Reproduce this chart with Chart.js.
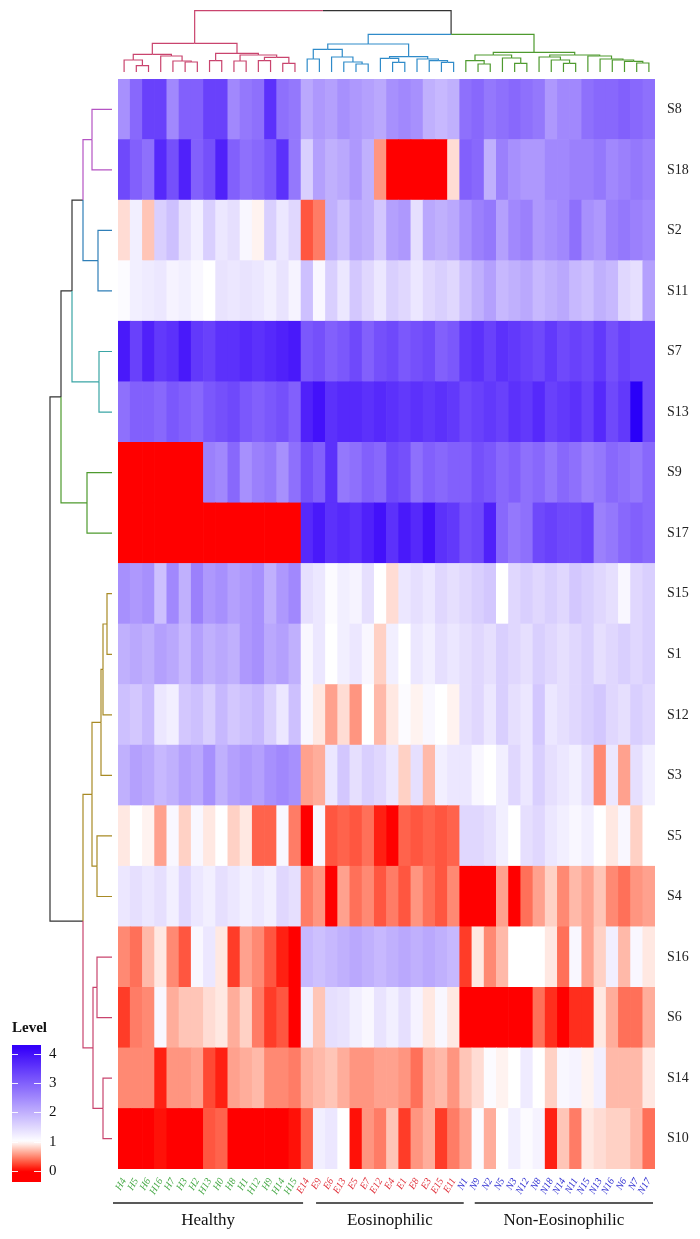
<!DOCTYPE html>
<html>
<head>
<meta charset="utf-8">
<script src="https://cdn.jsdelivr.net/npm/chart.js@4.4.0/dist/chart.umd.min.js"></script>
<style>
  body { margin: 0; background: #fff; }
  #wrap { position: relative; width: 700px; height: 1239px; overflow: hidden; }
  canvas { position: absolute; }
  #levelTitle { position: absolute; left: 12px; top: 1019px; font: bold 15px "Liberation Serif", serif; color: #111; }
</style>
</head>
<body>
<div id="wrap">
  <canvas id="heat" width="700" height="1239" style="left:0;top:0"></canvas>
  <canvas id="topDend" width="537" height="79" style="left:118px;top:0"></canvas>
  <canvas id="leftDend" width="118" height="1090" style="left:0;top:79px"></canvas>
  <canvas id="legend" width="62" height="137" style="left:12px;top:1045px"></canvas>
  <div id="levelTitle">Level</div>
</div>
<script>
// --- columnas (muestras) ---
const healthy = ['H4','H5','H6','H16','H7','H3','H2','H13','H0','H8','H1','H12','H9','H14','H15'];
const eosinophilic = ['E14','E9','E6','E13','E5','E7','E12','E4','E1','E8','E3','E15','E11'];
const nonEosinophilic = ['N1','N9','N2','N5','N3','N12','N8','N18','N14','N11','N15','N13','N16','N6','N7','N17'];
const groupNames = ['Healthy', 'Eosinophilic', 'Non-Eosinophilic'];

// --- filas, de arriba a abajo ---
const rowNames = ['S8','S18','S2','S11','S7','S13','S9','S17','S15','S1','S12','S3','S5','S4','S16','S6','S14','S10'];

// niveles por fila: Healthy | Eosinophilic | Non-Eosinophilic
const s8  = [2.4,2.9,3.4,3.4,2.5,3.0,3.0,3.4,3.4,2.5,2.7,2.8,3.6,2.8,2.7, 2.1,2.3,2.2,2.4,2.3,2.2,2.1,2.4,2.5,2.4,2.0,1.9,2.0, 2.8,2.9,2.7,2.8,2.9,2.8,2.7,2.3,2.5,2.5,2.8,2.9,2.9,3.0,2.9,2.8];
const s18 = [3.3,3.0,2.8,3.7,3.2,3.8,3.0,3.2,3.8,3.0,2.8,2.9,3.1,3.6,2.7, 1.6,2.2,2.0,2.1,2.3,2.0,0.55,0,0,0,0,0,0.85, 3.0,2.9,2.0,2.6,2.4,2.3,2.3,2.5,2.5,2.6,2.6,2.7,2.5,2.6,2.7,2.6];
const s2  = [0.85,1.2,0.75,1.6,1.8,1.4,1.2,1.6,1.3,1.4,1.1,0.95,1.6,1.3,1.5, 0.3,0.45,2.0,1.8,2.1,2.0,1.7,2.2,2.3,1.4,2.1,2.0,2.1, 2.4,2.6,2.7,2.2,2.5,2.6,2.3,2.4,2.5,2.8,2.4,2.3,2.6,2.7,2.6,2.5];
const s11 = [1.05,1.2,1.25,1.3,1.15,1.2,1.1,1.0,1.35,1.3,1.35,1.3,1.2,1.35,1.15, 1.8,1.1,1.6,1.3,1.7,1.5,1.3,1.6,1.5,1.3,1.5,1.6,1.5, 1.8,2.0,2.2,1.9,2.0,2.1,1.9,2.0,2.1,1.9,1.8,2.0,1.9,1.5,1.4,2.2];
const s7  = [3.9,3.4,3.8,3.5,3.6,3.9,3.5,3.4,3.6,3.6,3.7,3.6,3.7,3.8,3.9, 3.1,3.2,3.0,3.1,3.3,3.0,3.2,3.3,3.1,3.2,3.3,3.0,3.1, 3.5,3.6,3.4,3.6,3.5,3.4,3.3,3.5,3.3,3.4,3.3,3.5,3.2,3.4,3.3,3.3];
const s13 = [2.8,3.0,3.0,2.9,3.1,3.0,2.9,3.1,3.2,3.3,3.1,3.0,3.1,3.2,3.0, 3.8,4.0,3.6,3.7,3.7,3.6,3.7,3.6,3.5,3.6,3.5,3.6,3.5, 3.3,3.4,3.5,3.4,3.6,3.5,3.7,3.4,3.5,3.6,3.4,3.7,3.3,3.5,4.4,3.3];
const s9  = [0,0,0,0,0,0,0,2.6,2.5,2.9,2.4,2.6,2.7,2.4,2.8, 3.2,3.0,3.6,2.7,2.8,3.0,2.9,3.3,3.2,2.8,3.0,2.9,3.0, 3.0,3.2,3.1,2.9,3.0,2.8,2.9,2.7,2.9,2.8,2.6,2.7,2.9,2.8,2.7,2.9];
const s17 = [0,0,0,0,0,0,0,0,0,0,0,0,0,0,0, 3.7,3.9,3.6,3.7,3.6,3.8,4.0,3.6,3.9,3.7,4.0,3.6,3.5, 3.2,3.3,3.8,2.9,2.7,2.8,3.3,3.4,3.3,3.3,3.4,2.6,2.7,2.9,3.0,2.9];
const s15 = [2.4,2.3,2.4,1.8,2.5,2.0,2.6,2.3,2.4,2.2,2.3,2.4,2.0,2.3,2.5, 1.4,1.3,1.05,1.2,1.15,1.4,1.0,0.85,1.3,1.4,1.3,1.5,1.4, 1.5,1.6,1.7,1.0,1.5,1.6,1.5,1.6,1.5,1.7,1.6,1.5,1.4,1.1,1.5,1.6];
const s1  = [2.0,2.1,2.0,2.2,2.1,1.9,2.2,2.0,2.1,2.0,2.3,2.4,2.1,2.2,2.0, 1.1,1.3,1.0,1.2,1.3,1.1,0.8,1.2,1.0,1.3,1.2,1.4,1.3, 1.4,1.5,1.4,1.6,1.5,1.4,1.6,1.5,1.4,1.5,1.6,1.4,1.5,1.6,1.5,1.6];
const s12 = [1.8,1.7,1.9,1.3,1.2,1.7,1.8,1.6,1.9,1.7,1.8,1.9,1.6,1.3,1.8, 1.1,0.9,0.6,0.85,0.55,1.0,0.7,0.9,1.05,0.95,1.1,1.0,0.95, 1.4,1.5,1.3,1.6,1.4,1.3,1.7,1.3,1.4,1.5,1.6,1.7,1.5,1.4,1.6,1.5];
const s3  = [2.0,2.2,2.1,1.9,2.0,2.2,2.1,2.4,2.0,2.2,2.3,2.2,2.4,2.5,2.4, 0.6,0.65,1.3,1.7,1.4,1.6,1.5,1.3,0.8,1.4,0.7,1.2,1.3, 1.3,1.1,1.0,1.2,1.5,1.3,1.6,1.4,1.3,1.2,1.4,0.5,1.3,0.6,1.4,1.2];
const s5  = [0.9,1.0,0.95,0.6,1.1,0.8,1.1,0.9,1.0,0.8,0.9,0.35,0.35,1.1,0.45, 0.0,1.1,0.3,0.35,0.3,0.4,0.1,0.0,0.35,0.3,0.35,0.3,0.35, 1.5,1.5,1.4,1.2,1.0,1.4,1.5,1.3,1.2,1.1,1.2,1.0,0.9,1.1,0.8,1.0];
const s4  = [1.3,1.4,1.3,1.4,1.2,1.5,1.3,1.2,1.4,1.3,1.2,1.3,1.2,1.5,1.4, 0.45,0.55,0.0,0.6,0.4,0.5,0.3,0.45,0.3,0.55,0.4,0.3,0.5, 0.0,0.0,0.0,0.6,0.0,0.4,0.6,0.8,0.5,0.7,0.6,0.75,0.5,0.4,0.55,0.6];
const s16 = [0.5,0.4,0.7,0.9,0.5,0.3,1.1,1.3,0.9,0.2,0.6,0.5,0.3,0.1,0.0, 1.9,1.8,1.9,2.0,2.1,2.0,1.9,2.0,2.1,2.0,2.1,2.0,1.9, 0.2,0.9,0.5,0.7,1.0,1.0,1.0,0.9,0.4,1.1,0.6,0.8,1.2,0.7,1.1,0.9];
const s6  = [0.2,0.45,0.5,1.1,0.65,0.75,0.75,0.85,0.9,0.65,0.8,0.45,0.2,0.3,0.0, 1.2,0.75,1.4,1.35,1.2,1.1,1.35,1.2,1.4,1.15,0.9,1.1,0.9, 0,0,0,0,0,0,0.4,0.15,0,0.15,0.15,0.9,0.65,0.4,0.4,0.65];
const s14 = [0.5,0.5,0.5,0.1,0.55,0.55,0.6,0.25,0.1,0.6,0.65,0.7,0.5,0.5,0.45, 0.65,0.7,0.75,0.65,0.55,0.55,0.6,0.6,0.55,0.4,0.65,0.7,0.55, 0.75,0.85,1.05,0.95,1.0,1.25,1.0,0.8,1.1,1.15,0.95,1.2,0.7,0.7,0.7,0.9];
const s10 = [0,0,0,0.05,0,0,0,0.3,0.35,0,0,0,0,0,0.05, 0.35,1.2,1.3,1.0,0.05,0.55,0.45,0.75,0.2,0.55,0.65,0.2,0.45, 0.6,1.05,0.65,1.0,1.2,1.05,1.15,0.1,0.75,0.45,0.9,0.85,0.8,0.8,0.7,0.4];
const rows = [s8, s18, s2, s11, s7, s13, s9, s17, s15, s1, s12, s3, s5, s4, s16, s6, s14, s10];

// dendrograma de columnas: [izq, der, altura], hojas = índice de columna
const colTree = [
  [[[0,[1,2,6.3],12],[3,[4,[5,6,10],11],16],17.7],
   [[7,8,11.3],[[9,10,11],[[11,12,11.3],[13,14,8.7],14.7],17],18.7], 28.7],
  [[[[15,16,13],[17,[18,[19,20,8],10],15],22.7],[[21,[22,23,9.7],13.7],[24,[25,[26,27,9.7],11.3],13],15.3],28],
   [[[28,[29,30,8],11.3],[31,[32,33,8.7],14],17],[[34,[35,[36,37,8.7],12],15],[38,[39,[40,[41,[42,43,9],10.7],12],13],16],17],19.7],
   37.7],
  61.3];
// dendrograma de filas, hojas = índice de fila
const rowTree = [
  [[[[0,1,20],[2,3,14],29],[4,5,13],40],[6,7,25],51],
  [[[[[8,9,5],10,9],11,11],[12,13,15],20],[[14,15,15],[16,17,9],19],29],
  62];

const legendTicks = [0, 1, 2, 3, 4];
const legendMin = -0.38, legendMax = 4.31;

const FONT = '"Liberation Serif", "DejaVu Serif", serif';
const colLabels = [...healthy, ...eosinophilic, ...nonEosinophilic];
const groupStart = [0, healthy.length, healthy.length + eosinophilic.length];
const groupEnd = [healthy.length - 1, healthy.length + eosinophilic.length - 1, colLabels.length - 1];
const groupTextColor = ['#45a845', '#e0303a', '#2a2ad0'];
const colTreeColors = ['#c9446e', '#2f8bc9', '#4e9a2e'];
const rowTreeColors = ['#b554c4','#b554c4','#2f7fb8','#2f7fb8','#3aa5a5','#3aa5a5','#4e9a2e','#4e9a2e',
  '#a88a25','#a88a25','#a88a25','#a88a25','#a88a25','#a88a25','#c9446e','#c9446e','#c9446e','#c9446e'];

// rojo (0) -> blanco (1) -> azul violáceo (4)
function levelColor(v) {
  if (v <= 1) {
    const t = Math.max(0, v);
    return `rgb(255,${Math.round(255 * Math.pow(t, 0.9))},${Math.round(255 * Math.pow(t, 1.15))})`;
  }
  const t = Math.min((v - 1) / 3, 1.15);
  return `rgb(${Math.round(Math.max(0, 255 - 188 * t))},${Math.round(Math.max(0, 255 - 238 * t))},${Math.round(255 - 5 * t)})`;
}

function groupOf(i) { return i < groupStart[1] ? 0 : (i < groupStart[2] ? 1 : 2); }

// --- Heatmap: barras apiladas, una celda por fila ---
const heatDatasets = rows.slice().reverse().map((vals, k) => ({
  label: rowNames[rows.length - 1 - k],
  data: vals.map(() => 1),
  backgroundColor: vals.map(levelColor),
  borderWidth: 0,
  barPercentage: 1,
  categoryPercentage: 1
}));

const groupPlugin = {
  id: 'groupLabels',
  afterDraw(chart) {
    const x = chart.scales.x, ctx = chart.ctx, bottom = chart.chartArea.bottom;
    const half = (x.getPixelForValue(1) - x.getPixelForValue(0)) / 2;
    const insets = [[-5, 2], [15, 4], [15, -2]];
    ctx.save();
    groupNames.forEach((name, g) => {
      const x0 = x.getPixelForValue(groupStart[g]) - half + insets[g][0];
      const x1 = x.getPixelForValue(groupEnd[g]) + half + insets[g][1];
      ctx.strokeStyle = '#222';
      ctx.lineWidth = 1.5;
      ctx.beginPath();
      ctx.moveTo(x0, bottom + 34);
      ctx.lineTo(x1, bottom + 34);
      ctx.stroke();
      ctx.fillStyle = '#111';
      ctx.font = '17px ' + FONT;
      ctx.textAlign = 'center';
      ctx.textBaseline = 'alphabetic';
      ctx.fillText(name, (x0 + x1) / 2, bottom + 56);
    });
    ctx.restore();
  }
};

new Chart(document.getElementById('heat'), {
  type: 'bar',
  data: { labels: colLabels, datasets: heatDatasets },
  options: {
    responsive: false,
    animation: false,
    layout: { padding: { left: 118, top: 79, right: 0, bottom: 0 } },
    plugins: { legend: { display: false }, tooltip: { enabled: false } },
    scales: {
      x: {
        stacked: true,
        grid: { display: false, drawTicks: false },
        border: { display: false },
        ticks: {
          autoSkip: false, minRotation: 60, maxRotation: 60, padding: 7,
          font: { family: FONT, style: 'italic', size: 10 },
          color: c => groupTextColor[groupOf(c.index)]
        },
        afterFit: s => { s.height = 70; }
      },
      y: {
        stacked: true,
        position: 'right',
        min: 0, max: rowNames.length,
        grid: { display: false, drawTicks: false },
        border: { display: false },
        afterBuildTicks: s => { s.ticks = rowNames.map((_, i) => ({ value: i + 0.5 })); },
        ticks: {
          padding: 12,
          font: { family: FONT, size: 14 },
          color: '#222',
          callback: v => rowNames[rowNames.length - 1 - Math.floor(v)]
        },
        afterFit: s => { s.width = 45; }
      }
    }
  },
  plugins: [groupPlugin]
});

// --- Dendrogramas ---
function treeSegments(tree, leafColors, flip) {
  const segs = [];
  function walk(node) {
    if (typeof node === 'number') return { pos: node + 0.5, h: 0, color: leafColors[node] };
    const a = walk(node[0]), b = walk(node[1]), h = node[2];
    const mid = (a.pos + b.pos) / 2;
    [a, b].forEach(c => segs.push({ color: c.color, pts: [[c.pos, c.h], [c.pos, h], [mid, h]] }));
    return { pos: mid, h: h, color: a.color === b.color ? a.color : '#333' };
  }
  walk(tree);
  return segs.map(s => ({
    data: s.pts.map(([p, h]) => flip ? { x: h, y: p } : { x: p, y: h }),
    borderColor: s.color,
    borderWidth: 1.2,
    showLine: true,
    pointRadius: 0,
    fill: false
  }));
}

const dendOptions = (xs, ys) => ({
  responsive: false,
  animation: false,
  layout: { padding: 0 },
  plugins: { legend: { display: false }, tooltip: { enabled: false } },
  scales: { x: Object.assign({ type: 'linear', display: false }, xs), y: Object.assign({ type: 'linear', display: false }, ys) }
});

const colLeafColors = colLabels.map((_, i) => colTreeColors[groupOf(i)]);
new Chart(document.getElementById('topDend'), {
  type: 'scatter',
  data: { datasets: treeSegments(colTree, colLeafColors, false) },
  options: dendOptions({ min: 0, max: colLabels.length }, { min: -7, max: 72 })
});

new Chart(document.getElementById('leftDend'), {
  type: 'scatter',
  data: { datasets: treeSegments(rowTree, rowTreeColors, true) },
  options: dendOptions({ min: -6, max: 112, reverse: true }, { min: 0, max: rowNames.length, reverse: true })
});

// --- Leyenda (barra de color) ---
const legendLabelsPlugin = {
  id: 'legendLabels',
  afterDatasetsDraw(chart) {
    const y = chart.scales.y, a = chart.chartArea, ctx = chart.ctx;
    ctx.save();
    ctx.strokeStyle = 'rgba(255,255,255,0.9)';
    ctx.lineWidth = 1;
    ctx.fillStyle = '#111';
    ctx.font = '15px ' + FONT;
    ctx.textAlign = 'left';
    ctx.textBaseline = 'middle';
    legendTicks.forEach(v => {
      const py = Math.round(y.getPixelForValue(v)) + 0.5;
      ctx.beginPath();
      ctx.moveTo(a.left, py); ctx.lineTo(a.left + 6, py);
      ctx.moveTo(a.right - 7, py); ctx.lineTo(a.right, py);
      ctx.stroke();
      ctx.fillText(String(v), a.right + 8, py);
    });
    ctx.restore();
  }
};

new Chart(document.getElementById('legend'), {
  type: 'bar',
  data: {
    labels: ['Level'],
    datasets: [{
      data: [[legendMin, legendMax]],
      backgroundColor: c => {
        const chart = c.chart;
        if (!chart.chartArea) return null;
        const y = chart.scales.y;
        const g = chart.ctx.createLinearGradient(0, y.getPixelForValue(legendMin), 0, y.getPixelForValue(legendMax));
        for (let k = 0; k <= 40; k++) {
          g.addColorStop(k / 40, levelColor(legendMin + (legendMax - legendMin) * k / 40));
        }
        return g;
      },
      borderWidth: 0,
      barPercentage: 1,
      categoryPercentage: 1
    }]
  },
  options: {
    responsive: false,
    animation: false,
    layout: { padding: 0 },
    plugins: { legend: { display: false }, tooltip: { enabled: false } },
    scales: {
      x: { display: false },
      y: {
        position: 'right',
        min: legendMin, max: legendMax,
        grid: { display: false, drawTicks: false },
        border: { display: false },
        ticks: { display: false },
        afterFit: s => { s.width = 33; }
      }
    }
  },
  plugins: [legendLabelsPlugin]
});
</script>
</body>
</html>
